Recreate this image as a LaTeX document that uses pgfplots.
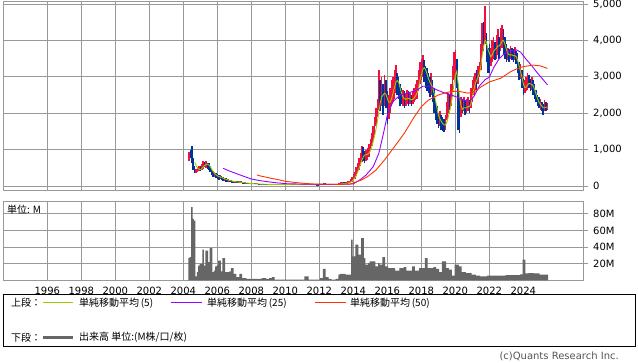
\documentclass[border=0pt]{standalone}
\usepackage{pgfplots}
\pgfplotsset{compat=1.18}
\usepackage{pgfplotstable}
\usepackage{fontspec}
\setmainfont{DejaVu Sans}
\newfontfamily\jp{Noto Sans CJK JP}
\definecolor{upred}{RGB}{240,16,64}
\definecolor{dnblue}{RGB}{0,51,153}
\definecolor{ma5c}{RGB}{153,204,0}
\definecolor{ma25c}{RGB}{153,0,255}
\definecolor{ma50c}{RGB}{255,51,0}
\definecolor{gridc}{RGB}{153,153,153}
\definecolor{volc}{RGB}{102,102,102}
\definecolor{copyc}{RGB}{85,85,85}

\pgfplotstableread{
m lo hi c v ma
52 700 940 1 27 nan
53 760 1000 0 28 nan
54 620 1100 0 88 nan
55 450 780 0 74 nan
56 350 560 0 72 650
57 360 480 1 5 560
58 390 520 1 10 490
59 420 560 1 18 460
60 400 540 0 20 450
61 430 600 1 20 470
62 480 680 1 37 520
63 520 650 0 18 560
64 500 700 1 36 590
65 470 640 0 36 600
66 440 620 0 22 580
67 380 560 0 39 530
68 300 460 0 39 460
69 260 420 0 10 400
70 250 380 1 12 350
71 210 350 0 17 310
72 200 330 0 18 280
73 170 300 0 24 260
74 180 310 1 24 250
75 160 280 0 11 240
76 140 250 0 27 220
77 140 230 1 27 200
78 120 210 0 10 185
79 120 200 0 10 170
80 110 190 1 10 160
81 100 170 0 11 150
82 95 160 0 15 140
83 90 150 0 15 130
84 85 150 1 8 125
85 80 140 0 8 118
86 80 130 0 4 112
87 75 125 0 4 105
88 80 150 1 8 105
89 70 130 0 8 100
90 65 110 0 3 95
91 60 105 0 3 90
92 60 100 1 3 85
93 55 95 0 2 80
94 55 90 0 2 76
95 50 85 0 2 72
96 50 80 0 2 68
97 45 80 1 2 65
98 45 75 0 2 62
99 45 72 0 2 60
100 42 70 1 2 58
101 40 68 0 2 56
102 40 65 0 2 54
103 38 62 0 2 52
104 38 65 1 3 50
105 35 60 0 3 49
106 35 58 0 3 48
107 33 55 0 2 47
108 33 55 1 2 46
109 32 52 0 3 45
110 32 55 1 3 45
111 33 56 1 4 44
112 33 54 0 4 44
113 32 52 0 1 43
114 32 50 0 1 43
115 30 48 0 1 42
116 30 48 1 1 41
117 30 47 0 1 41
118 30 47 0 1 40
119 29 46 0 1 40
120 29 46 1 1 40
121 29 45 0 1 39
122 28 45 0 1 39
123 28 45 1 1 39
124 28 44 0 1 38
125 28 44 0 1 38
126 28 44 1 1 38
127 28 43 0 1 38
128 28 43 0 1 37
129 27 43 1 1 37
130 27 42 0 1 37
131 27 42 0 1 37
132 27 45 0 1 37
133 27 48 1 1 37
134 28 60 1 5 38
135 30 55 0 5 40
136 28 50 0 5 40
137 27 45 0 1 39
138 27 44 1 1 38
139 27 43 0 1 37
140 26 42 0 1 36
141 26 42 1 1 36
142 26 41 0 1 36
143 26 41 0 1 35
144 26 42 1 1 35
145 27 50 1 3 36
146 28 55 1 3 38
147 30 80 1 14 42
148 35 70 0 14 46
149 32 60 0 4 47
150 30 55 0 4 46
151 30 52 0 2 44
152 30 50 1 2 42
153 30 50 0 1 41
154 29 48 0 1 40
155 29 48 1 1 40
156 29 50 1 2 40
157 30 55 1 2 41
158 35 80 1 7 45
159 45 100 1 8 52
160 50 110 1 8 60
161 55 105 0 8 66
162 55 100 0 8 70
163 60 120 1 7 75
164 65 130 1 7 82
165 70 140 1 7 90
166 90 180 1 7 105
167 110 260 1 49 130
168 160 340 1 29 170
169 200 380 1 29 220
170 280 520 1 43 290
171 380 640 1 43 380
172 450 760 1 31 480
173 550 900 1 31 590
174 650 1100 1 51 710
175 700 1080 0 51 800
176 620 950 0 27 850
177 680 1000 1 19 860
178 720 1050 1 19 870
179 800 1150 1 21 900
180 950 1300 1 23 970
181 1100 1450 1 23 1080
182 1250 1650 1 23 1220
183 1400 1900 1 23 1380
184 1650 2150 1 17 1570
185 1900 2400 1 17 1780
186 2100 3200 1 21 2050
187 2050 2900 0 19 2280
188 2200 3000 1 19 2450
189 1950 2800 0 28 2500
190 2200 3050 1 28 2550
191 2150 2900 0 17 2520
192 1700 2600 0 17 2400
193 1850 2500 1 15 2300
194 2000 2700 1 15 2300
195 2200 2900 1 15 2400
196 2300 3000 1 15 2550
197 2400 3200 1 15 2700
198 2550 3320 1 12 2850
199 2500 3100 0 12 2900
200 2400 3000 0 12 2850
201 2200 2800 0 15 2700
202 2250 2700 0 15 2550
203 2200 2650 1 15 2450
204 2150 2600 0 16 2400
205 2200 2550 1 16 2380
206 2250 2650 1 12 2400
207 2200 2600 0 12 2400
208 2250 2550 1 12 2390
209 2200 2500 0 12 2370
210 2250 2600 1 17 2380
211 2300 2700 1 17 2420
212 2350 2800 1 12 2480
213 2400 2900 1 12 2560
214 2600 3200 1 12 2700
215 2800 3400 1 15 2900
216 2900 3500 1 15 3050
217 3000 3600 1 15 3200
218 2850 3450 0 15 3250
219 2700 3300 0 27 3200
220 2600 3250 0 27 3080
221 2550 3100 0 15 2950
222 2450 3000 0 15 2850
223 2500 3100 1 15 2780
224 2300 2900 0 15 2700
225 2000 2700 0 16 2550
226 1800 2350 0 16 2350
227 1700 2200 0 14 2150
228 1600 2000 0 14 1950
229 1650 2050 1 10 1850
230 1550 1950 0 10 1780
231 1500 1900 0 23 1720
232 1480 1850 0 23 1680
233 1550 1950 1 23 1680
234 1800 2300 1 15 1750
235 2000 2550 1 15 1900
236 2100 2500 0 13 2050
237 2200 2800 1 13 2250
238 2600 3300 1 6 2500
239 2900 3690 1 6 2800
240 3000 3740 1 19 3050
241 2700 3500 0 19 3150
242 1550 2800 0 19 2800
243 1465 2400 0 17 2450
244 1900 2450 1 17 2200
245 2000 2400 0 10 2100
246 2050 2450 1 10 2150
247 1950 2350 0 10 2150
248 2000 2400 1 9 2150
249 2050 2450 1 9 2180
250 2000 2350 0 9 2180
251 2150 2700 1 9 2250
252 2300 2900 1 7 2450
253 2500 3000 1 7 2650
254 2650 3100 1 7 2800
255 2600 3200 0 6 2900
256 2800 3300 1 6 3000
257 3000 3400 1 6 3100
258 3200 3900 1 5 3300
259 3600 4470 1 5 3600
260 3700 4500 0 5 3850
261 3900 4945 1 5 4000
262 3400 4200 0 5 3950
263 3100 3800 0 6 3750
264 3100 3900 0 6 3650
265 3300 3800 1 6 3550
266 3400 4000 1 6 3600
267 3500 4100 1 6 3700
268 3450 3950 0 6 3750
269 3500 4150 1 6 3780
270 3600 4300 1 6 3850
271 3500 4100 0 6 3850
272 3700 4350 1 6 3900
273 3800 4420 1 6 3980
274 3600 4300 0 6 4000
275 3500 4100 0 6 3900
276 3400 3900 0 6.5 3750
277 3450 3800 1 6.5 3650
278 3400 3750 0 6.5 3600
279 3500 3850 1 6.5 3600
280 3450 3800 0 6.5 3600
281 3400 3750 0 6.5 3580
282 3450 3820 1 6.5 3580
283 3350 3700 0 6.5 3550
284 3100 3650 0 6.5 3450
285 2900 3400 0 6.5 3300
286 2950 3350 1 7.5 3150
287 2700 3200 0 7.5 3000
288 2500 2950 0 25 2800
289 2550 2900 1 25 2700
290 2600 3000 1 8.5 2720
291 2650 3100 1 8.5 2780
292 2700 3050 0 9 2820
293 2600 2950 0 9 2800
294 2650 3000 1 9 2790
295 2500 2900 0 9 2750
296 2400 2800 0 8.5 2650
297 2300 2650 0 8.5 2520
298 2200 2500 0 8.5 2400
299 2150 2450 0 8.5 2300
300 2100 2400 1 7 2250
301 2050 2300 0 7 2200
302 1950 2250 0 7 2150
303 2050 2350 1 7 2150
304 2050 2300 0 7 2160
305 2100 2280 1 7 2170
}\data

\pgfplotsset{
  base/.style={
    scale only axis, width=579.7pt, xmin=-79.1, xmax=330.1,
    axis line style={gridc, line width=0.8pt},
    grid=major, major grid style={gridc, line width=0.8pt},
    xtick={-48,-24,0,24,48,72,96,120,144,168,192,216,240,264,288},
    xtick style={draw=none},
    ytick style={gridc, line width=0.8pt},
    ytick pos=right, yticklabel pos=right,
    tick align=outside, major tick length=4.5pt,
    yticklabel style={anchor=west, inner sep=0pt, xshift=5.5pt},
    xticklabel style={anchor=north, inner sep=0pt, yshift=-1.5pt},
    /pgf/number format/assume math mode=true,
  }
}

\begin{document}
\begin{tikzpicture}
\useasboundingbox (0pt,0pt) rectangle (638pt,362pt);

\begin{axis}[base, at={(3.3pt,172pt)}, anchor=south west, height=189pt,
  ymin=-110, ymax=5082, ytick={0,1000,2000,3000,4000,5000},
  xticklabels={}, /pgf/number format/1000 sep={,}]
\addplot[forget plot, draw=none, no markers, restrict expr to domain={\thisrow{c}}{1:1},
  error bars/.cd, y dir=plus, y explicit, error mark=none,
  error bar style={draw=upred, line width=1.6pt}]
  table[x=m, y=lo, y error plus expr=\thisrow{hi}-\thisrow{lo}] {\data};
\addplot[forget plot, draw=none, no markers, restrict expr to domain={\thisrow{c}}{0:0},
  error bars/.cd, y dir=plus, y explicit, error mark=none,
  error bar style={draw=dnblue, line width=1.6pt}]
  table[x=m, y=lo, y error plus expr=\thisrow{hi}-\thisrow{lo}] {\data};
\addplot[ma5c, line width=0.9pt, mark=none] table[x=m, y=ma] {\data};
\addplot[ma25c, line width=0.9pt, mark=none] coordinates {
(76,486) (80,420) (83,376) (90,275) (96,192) (102,147) (108,115) (113,92) (120,64)
(132,52) (144,45) (156,44) (164,48) (168,60) (172,150) (177,300) (182,530) (186,900)
(189,1400) (192,1950) (196,2320) (201,2500) (206,2545) (213,2640) (217,2740) (222,2740)
(227,2640) (232,2560) (237,2500) (242,2430) (247,2340) (250,2330) (253,2450) (257,2750)
(261,2920) (264,2990) (267,3250) (271,3500) (275,3650) (279,3720) (283,3740) (286,3680)
(290,3480) (294,3300) (298,3100) (302,2920) (305,2780)};
\addplot[ma50c, line width=0.9pt, mark=none] coordinates {
(100,302) (103,270) (107,238) (110,210) (114,183) (120,128) (128,92) (134,70) (140,55)
(150,48) (160,45) (166,55) (169,100) (174,170) (178,256) (184,440) (190,714) (197,1080)
(204,1450) (211,1900) (216,2180) (221,2360) (228,2500) (233,2560) (238,2600) (244,2590)
(249,2550) (254,2600) (258,2720) (264,2860) (272,2960) (279,3140) (284,3230) (288,3280)
(295,3320) (300,3300) (305,3230)};
\end{axis}

\begin{axis}[base, at={(3.3pt,81.5pt)}, anchor=south west, height=79.5pt,
  ymin=0, ymax=95.5, ytick={20,40,60,80}, yticklabels={20M,40M,60M,80M},
  xticklabels={1996,1998,2000,2002,2004,2006,2008,2010,2012,2014,2016,2018,2020,2022,2024}]
\addplot[ybar, bar width=1, fill=volc, draw=none] table[x=m, y=v] {\data};
\end{axis}

\node[anchor=west, inner sep=0pt] at (7pt,152.7pt) {\jp 単位: M};

\draw[black, line width=0.8pt] (3.3pt,16pt) rectangle (635.3pt,67.7pt);
\node[anchor=west, inner sep=0pt] at (11pt,59pt) {\jp 上段：};
\draw[ma5c, line width=1pt] (43pt,59pt) -- (73pt,59pt);
\node[anchor=west, inner sep=0pt] at (79pt,59pt) {\jp 単純移動平均\,(5)};
\draw[ma25c, line width=1pt] (171pt,59pt) -- (202pt,59pt);
\node[anchor=west, inner sep=0pt] at (207pt,59pt) {\jp 単純移動平均\,(25)};
\draw[ma50c, line width=1pt] (315pt,59pt) -- (346pt,59pt);
\node[anchor=west, inner sep=0pt] at (350pt,59pt) {\jp 単純移動平均\,(50)};
\node[anchor=west, inner sep=0pt] at (11pt,24.3pt) {\jp 下段：};
\draw[volc, line width=3pt] (43pt,24.3pt) -- (73pt,24.3pt);
\node[anchor=west, inner sep=0pt] at (79pt,24.3pt) {\jp 出来高 単位:(M株/口/枚)};

\node[anchor=east, inner sep=0pt, text=copyc] at (619pt,6pt) {(c)Quants Research Inc.};
\end{tikzpicture}
\end{document}
